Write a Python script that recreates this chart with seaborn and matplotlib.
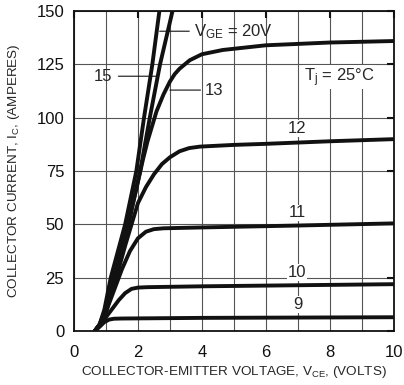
import seaborn as sns
import matplotlib.pyplot as plt
import pandas as pd

# Collector current vs collector-emitter voltage, one curve per V_GE
vce_20 = [0.65, 0.8, 0.95, 1.15, 1.6, 1.95, 2.19, 2.45, 2.67]
ic_20 = [0, 3, 10, 25, 50, 75, 100, 125, 150]

vce_15 = [0.65, 0.8, 0.95, 1.2, 1.7, 2.07, 2.37, 2.69, 3.08]
ic_15 = [0, 3, 9, 24, 50, 75, 100, 125, 150]

vce_13 = [0.65, 0.8, 1.0, 1.25, 1.6, 1.8, 2.0, 2.15, 2.3, 2.58, 2.8, 3.0, 3.15, 3.3,
          3.62, 4.0, 4.65, 6.0, 8.0, 10.0]
ic_13 = [0, 3, 9, 22, 43, 57, 70, 80, 89, 103, 111, 117, 120.5, 123, 127, 129.8,
         131.8, 134, 135.3, 136]

vce_12 = [0.65, 0.8, 1.0, 1.25, 1.6, 2.0, 2.25, 2.5, 2.75, 3.0, 3.3, 3.6, 3.94, 5.0,
          6.0, 8.0, 10.0]
ic_12 = [0, 3, 9, 21, 40, 60, 67.5, 73.5, 78.3, 81.5, 84.3, 85.8, 86.5, 87.3, 87.8,
         89, 90]

vce_11 = [0.65, 0.8, 1.0, 1.25, 1.5, 1.75, 2.0, 2.25, 2.5, 2.8, 4.0, 7.0, 10.0]
ic_11 = [0, 3, 9, 19, 29, 37.5, 43.5, 46.6, 47.8, 48.2, 48.6, 49.5, 50.5]

vce_10 = [0.65, 0.8, 1.0, 1.2, 1.4, 1.6, 1.8, 2.0, 2.3, 4.0, 7.0, 10.0]
ic_10 = [0, 2.5, 6.5, 10.5, 14.5, 17.8, 19.8, 20.4, 20.6, 21, 21.5, 22]

vce_9 = [0.65, 0.8, 0.95, 1.1, 1.25, 1.5, 4.0, 10.0]
ic_9 = [0, 2, 4.2, 5.4, 5.8, 5.9, 6.2, 6.5]

curves = {"20": (vce_20, ic_20), "15": (vce_15, ic_15), "13": (vce_13, ic_13),
          "12": (vce_12, ic_12), "11": (vce_11, ic_11), "10": (vce_10, ic_10),
          "9": (vce_9, ic_9)}

rows = []
for vge, (xs, ys) in curves.items():
    for x, y in zip(xs, ys):
        rows.append({"VGE": vge, "VCE": x, "IC": y})
df = pd.DataFrame(rows)

sns.set_style("white")
plt.rcParams["font.family"] = ["Liberation Sans", "DejaVu Sans"]
plt.rcParams["mathtext.default"] = "regular"

fig = plt.figure(figsize=(4.04, 3.85), dpi=100)
ax = fig.add_axes([0.183, 0.140, 0.792, 0.831])

sns.lineplot(data=df, x="VCE", y="IC", hue="VGE", units="VGE", estimator=None,
             palette={k: "#111111" for k in curves}, linewidth=2.8,
             legend=False, ax=ax, zorder=3, solid_capstyle="butt")

ax.set_xlim(0, 10)
ax.set_ylim(0, 150)
ax.set_xticks(range(0, 11, 2))
ax.set_xticks(range(1, 10, 2), minor=True)
ax.set_yticks(range(0, 151, 25))
ax.grid(True, which="both", color="#555555", linewidth=0.8, zorder=0)
ax.tick_params(axis="both", which="major", direction="in", length=5, width=1.5,
               top=True, right=True, labelsize=12, colors="#111111")
ax.tick_params(axis="x", which="major", pad=10)
ax.tick_params(axis="y", which="major", pad=7)
ax.tick_params(axis="both", which="minor", length=0)
for s in ax.spines.values():
    s.set_linewidth(1.3)
    s.set_color("#111111")

ax.set_xlabel("COLLECTOR-EMITTER VOLTAGE, V$_{CE}$, (VOLTS)", fontsize=9.7, labelpad=3)
ax.set_ylabel("COLLECTOR CURRENT, I$_C$, (AMPERES)", fontsize=9.7, labelpad=10)

white = dict(facecolor="white", edgecolor="none", pad=0.5)
ax.annotate("V$_{GE}$ = 20V", xy=(2.68, 140.6), xytext=(3.75, 140.6),
            fontsize=12, va="center", ha="left",
            arrowprops=dict(arrowstyle="-", color="#111111", lw=0.8, shrinkA=1, shrinkB=0))
ax.annotate("15", xy=(2.6, 119.5), xytext=(1.2, 119.5), fontsize=12,
            va="center", ha="right",
            arrowprops=dict(arrowstyle="-", color="#111111", lw=0.8, shrinkA=2, shrinkB=0))
ax.annotate("13", xy=(3.0, 113), xytext=(4.1, 113), fontsize=12,
            va="center", ha="left",
            arrowprops=dict(arrowstyle="-", color="#111111", lw=0.8, shrinkA=1, shrinkB=0))
ax.text(8.3, 119, "T$_j$ = 25°C", fontsize=12, ha="center", va="center", bbox=white, zorder=4)
ax.text(6.97, 95, "12", fontsize=12, ha="center", va="center", bbox=white, zorder=4)
ax.text(6.97, 55.5, "11", fontsize=12, ha="center", va="center", bbox=white, zorder=4)
ax.text(6.97, 27.5, "10", fontsize=12, ha="center", va="center", bbox=white, zorder=4)
ax.text(7.0, 12.5, "9", fontsize=12, ha="center", va="center", bbox=white, zorder=4)

fig.savefig("out.png", dpi=100)
